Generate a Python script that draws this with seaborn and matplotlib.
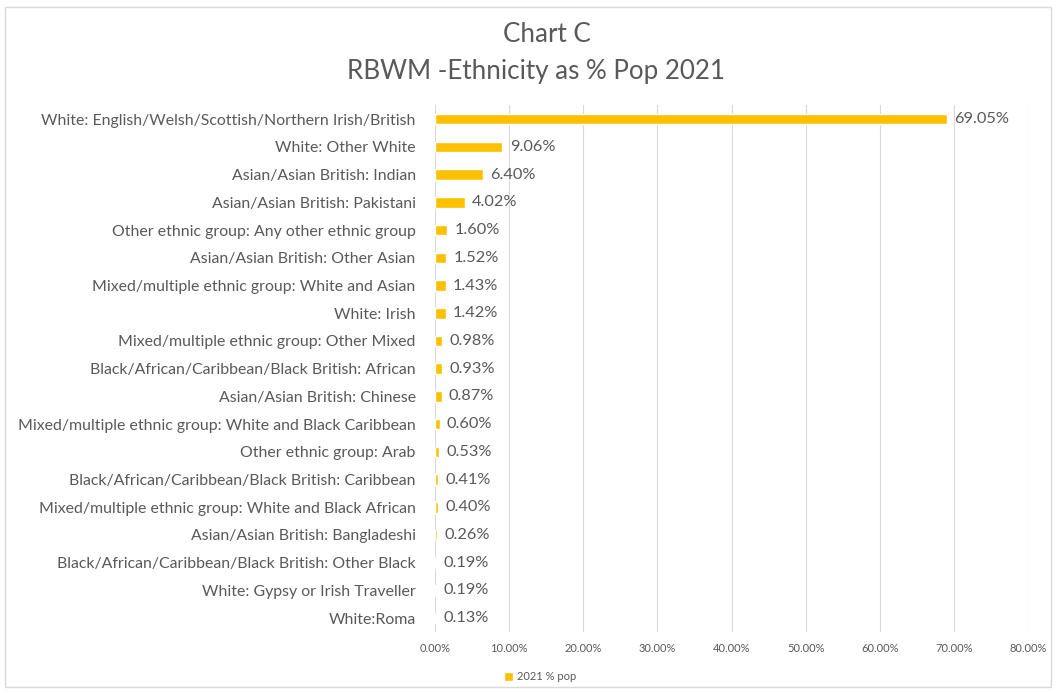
import pandas as pd
import matplotlib.pyplot as plt
import seaborn as sns
from matplotlib.patches import Rectangle
from matplotlib.ticker import FuncFormatter

# Data
groups = [
    'White: English/Welsh/Scottish/Northern Irish/British',
    'White: Other White',
    'Asian/Asian British: Indian',
    'Asian/Asian British: Pakistani',
    'Other ethnic group: Any other ethnic group',
    'Asian/Asian British: Other Asian',
    'Mixed/multiple ethnic group: White and Asian',
    'White: Irish',
    'Mixed/multiple ethnic group: Other Mixed',
    'Black/African/Caribbean/Black British: African',
    'Asian/Asian British: Chinese',
    'Mixed/multiple ethnic group: White and Black Caribbean',
    'Other ethnic group: Arab',
    'Black/African/Caribbean/Black British: Caribbean',
    'Mixed/multiple ethnic group: White and Black African',
    'Asian/Asian British: Bangladeshi',
    'Black/African/Caribbean/Black British: Other Black',
    'White: Gypsy or Irish Traveller',
    'White:Roma',
]
pct_2021 = [69.05, 9.06, 6.40, 4.02, 1.60, 1.52, 1.43, 1.42, 0.98, 0.93,
            0.87, 0.60, 0.53, 0.41, 0.40, 0.26, 0.19, 0.19, 0.13]

df = pd.DataFrame({'group': groups, 'pct': pct_2021})

sns.set_style('white')
plt.rcParams['font.family'] = ['Lato', 'DejaVu Sans']
text_col = '#595959'
bar_col = '#FFC000'

fig = plt.figure(figsize=(10.56, 6.93), dpi=100)
ax = fig.add_axes([0.412, 0.088, 0.5615, 0.760])

sns.barplot(data=df, x='pct', y='group', color=bar_col, width=0.38,
            saturation=1, ax=ax, label='2021 % pop')

ax.set_xlim(0, 80)
ax.set_xticks(range(0, 81, 10))
ax.xaxis.set_major_formatter(FuncFormatter(lambda v, p: f'{v:.2f}%'))
ax.grid(axis='x', color='#D9D9D9', linewidth=0.8)
ax.set_axisbelow(True)
for s in ax.spines.values():
    s.set_visible(False)
ax.tick_params(axis='x', labelsize=8, colors=text_col, length=0, pad=8)
ax.tick_params(axis='y', labelsize=11.4, colors=text_col, length=0, pad=14)
ax.set_xlabel('')
ax.set_ylabel('')

for i, v in enumerate(pct_2021):
    ax.text(v + 1.0, i, f'{v:.2f}%', va='center', ha='left', fontsize=11.8, color=text_col)

fig.text(0.518, 1 - 35 / 693, 'Chart C', ha='center', va='center',
         fontsize=18.7, color=text_col)
fig.text(0.508, 1 - 72 / 693, 'RBWM -Ethnicity as % Pop 2021', ha='center', va='center',
         fontsize=18.7, color=text_col)

handles, labels = ax.get_legend_handles_labels()
if ax.get_legend() is not None:
    ax.get_legend().remove()
fig.legend(handles, labels, loc='center', bbox_to_anchor=(540 / 1056, 1 - 677 / 693),
           frameon=False, fontsize=8, handlelength=0.8, handleheight=0.8,
           handletextpad=0.4, labelcolor=text_col)

fig.patches.append(Rectangle((0.005, 0.008), 0.99, 0.982, transform=fig.transFigure,
                             fill=False, edgecolor='#D9D9D9', linewidth=1))

fig.savefig('out.png', dpi=100)
